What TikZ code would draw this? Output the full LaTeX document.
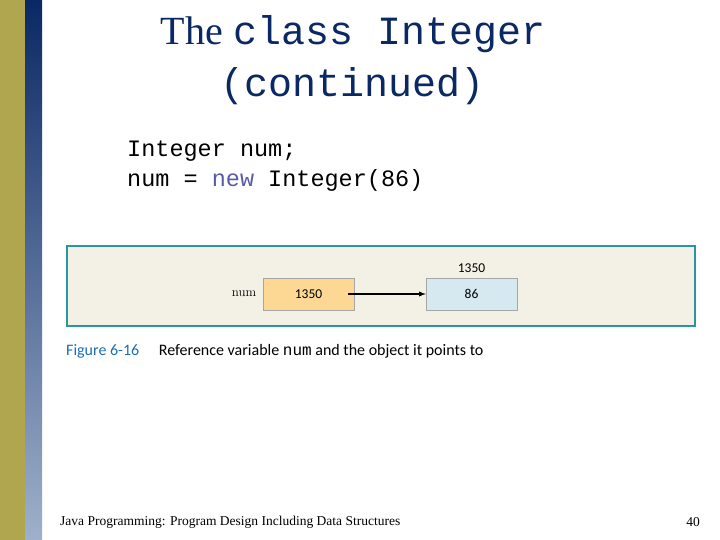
\documentclass[tikz,border=0pt]{standalone}
\usepackage{fontspec}
\setsansfont{Carlito}
\newfontfamily\footfont{Liberation Serif}
\setmonofont{Liberation Mono}
\usetikzlibrary{positioning}
\definecolor{olivebar}{RGB}{176,166,80}
\definecolor{navy}{RGB}{10,40,100}
\definecolor{barblue}{RGB}{40,80,140}
\definecolor{figbg}{RGB}{243,240,230}
\definecolor{figline}{RGB}{40,150,160}
\definecolor{cellorange}{RGB}{252,216,148}
\definecolor{cellblue}{RGB}{214,232,240}
\definecolor{capblue}{RGB}{30,110,180}
\definecolor{kwblue}{RGB}{90,90,170}
\begin{document}
\begin{tikzpicture}[x=1pt,y=-1pt,
    cell/.style={draw=gray!70, minimum width=91pt, minimum height=32pt, inner sep=0pt, font=\sffamily\fontsize{13.5}{14}\selectfont},
    code/.style={anchor=west, font=\ttfamily\fontsize{23.5}{26}\selectfont, inner sep=0pt}]
\useasboundingbox (0,0) rectangle (720,540);
% side bars
\fill[olivebar] (0,0) rectangle (25,540);
\shade[top color=navy, bottom color=barblue!45] (25,0) rectangle (42,540);
% title
\node[navy, inner sep=0pt] (title1) at (353,34) {\footfont\fontsize{40}{44}\selectfont The\ \ttfamily class Integer};
\node[navy, inner sep=0pt] (title2) at (353,86) {\ttfamily\fontsize{40}{44}\selectfont (continued)};
% code
\node[code] (line1) at (127,151) {Integer num;};
\node[code] (line2) at (127,180) {num = \textcolor{kwblue}{new} Integer(86)};
% figure
\draw[figline, fill=figbg, line width=1.5pt] (67,246) rectangle (695,326);
\node[cell, fill=cellorange] (ref) at (308.5,294) {1350};
\node[cell, fill=cellblue] (obj) at (471.5,294) {86};
\node[left=3pt of ref, font=\fontsize{13}{13}\selectfont] (name) {num};
\node[above=2pt of obj, font=\sffamily\fontsize{13.5}{14}\selectfont] (addr) {1350};
\draw[-latex, line width=1.3pt] ([xshift=-6pt]ref.east) -- (obj.west);
\node[anchor=west, inner sep=0pt, font=\sffamily\fontsize{16}{16}\selectfont] (caption) at (66,351)
  {\textcolor{capblue}{Figure 6-16}\quad\ Reference variable \texttt{num} and the object it points to};
% footer
\node[anchor=west, inner sep=0pt, font=\footfont\fontsize{13.5}{14}\selectfont] (foot) at (60,522) {Java Programming: Program Design Including Data Structures};
\node[inner sep=0pt, font=\footfont\fontsize{13.5}{14}\selectfont] (page) at (693,522) {40};
\end{tikzpicture}
\end{document}
